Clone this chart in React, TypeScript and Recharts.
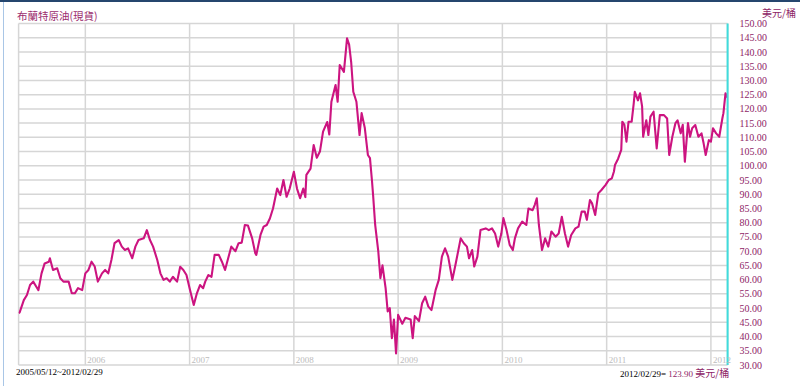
import React from 'react';
import { LineChart, Line, XAxis, YAxis, CartesianGrid } from 'recharts';

// decimal year of each sample
const times = [
    2005.36, 2005.37, 2005.41, 2005.44, 2005.47, 2005.50, 2005.53, 2005.55, 2005.58, 2005.61,
    2005.65, 2005.66, 2005.69, 2005.73, 2005.76, 2005.79, 2005.84, 2005.87, 2005.90, 2005.93,
    2005.97, 2006.00, 2006.03, 2006.06, 2006.09, 2006.12, 2006.16, 2006.19, 2006.22, 2006.25,
    2006.28, 2006.32, 2006.35, 2006.38, 2006.41, 2006.45, 2006.48, 2006.51, 2006.56, 2006.59,
    2006.62, 2006.65, 2006.69, 2006.72, 2006.75, 2006.78, 2006.81, 2006.84, 2006.88, 2006.91,
    2006.94, 2006.97, 2007.00, 2007.04, 2007.07, 2007.10, 2007.13, 2007.15, 2007.18, 2007.21,
    2007.24, 2007.28, 2007.31, 2007.34, 2007.37, 2007.40, 2007.44, 2007.47, 2007.50, 2007.53,
    2007.56, 2007.60, 2007.63, 2007.64, 2007.68, 2007.71, 2007.74, 2007.77, 2007.80, 2007.84,
    2007.87, 2007.90, 2007.93, 2007.96, 2008.00, 2008.03, 2008.06, 2008.09, 2008.11, 2008.12,
    2008.16, 2008.19, 2008.22, 2008.25, 2008.28, 2008.32, 2008.34, 2008.36, 2008.40, 2008.42,
    2008.44, 2008.48, 2008.51, 2008.53, 2008.55, 2008.57, 2008.60, 2008.63, 2008.65, 2008.68,
    2008.71, 2008.73, 2008.75, 2008.76, 2008.78, 2008.81, 2008.83, 2008.85, 2008.88, 2008.90,
    2008.92, 2008.94, 2008.96, 2008.98, 2009.00, 2009.04, 2009.07, 2009.12, 2009.14, 2009.16,
    2009.20, 2009.23, 2009.26, 2009.29, 2009.32, 2009.36, 2009.39, 2009.42, 2009.45, 2009.48,
    2009.52, 2009.55, 2009.60, 2009.63, 2009.66, 2009.68, 2009.71, 2009.73, 2009.76, 2009.79,
    2009.84, 2009.87, 2009.90, 2009.93, 2009.96, 2009.99, 2010.01, 2010.04, 2010.07, 2010.10,
    2010.12, 2010.15, 2010.19, 2010.23, 2010.25, 2010.29, 2010.31, 2010.33, 2010.35, 2010.38,
    2010.41, 2010.44, 2010.47, 2010.51, 2010.54, 2010.57, 2010.60, 2010.63, 2010.66, 2010.70,
    2010.73, 2010.76, 2010.79, 2010.81, 2010.84, 2010.86, 2010.89, 2010.92, 2010.95, 2010.99,
    2011.02, 2011.05, 2011.07, 2011.08, 2011.11, 2011.14, 2011.15, 2011.17, 2011.19, 2011.21,
    2011.24, 2011.26, 2011.27, 2011.30, 2011.32, 2011.34, 2011.35, 2011.38, 2011.40, 2011.42,
    2011.45, 2011.48, 2011.51, 2011.55, 2011.58, 2011.60, 2011.63, 2011.66, 2011.68, 2011.71,
    2011.73, 2011.75, 2011.78, 2011.80, 2011.82, 2011.85, 2011.88, 2011.91, 2011.93, 2011.95,
    2011.98, 2012.00, 2012.02, 2012.05, 2012.08, 2012.11, 2012.12, 2012.14, 2012.16,
];

// Brent spot, USD per barrel
const prices = [
    48.2, 48.5, 52.8, 54.6, 58.1, 59.3, 57.5, 56.3, 62.2, 65.7,
    66.3, 67.5, 63.4, 64.0, 60.5, 59.3, 59.3, 55.2, 55.2, 57.0,
    56.3, 62.2, 63.4, 66.3, 64.6, 59.3, 62.2, 63.4, 62.2, 66.9,
    72.8, 73.9, 71.6, 70.4, 71.0, 67.5, 71.6, 73.9, 74.5, 77.4,
    73.9, 71.6, 66.9, 62.2, 59.9, 60.5, 59.3, 61.0, 59.3, 64.5,
    63.4, 61.6, 57.0, 51.1, 55.2, 58.1, 57.0, 59.3, 61.6, 61.0,
    68.7, 68.7, 66.3, 63.4, 67.5, 71.6, 70.0, 72.8, 73.0, 79.2,
    79.0, 74.5, 69.3, 68.7, 75.7, 78.6, 79.2, 81.5, 85.0, 92.0,
    89.7, 95.0, 89.1, 92.0, 97.9, 92.0, 88.6, 92.0, 89.0, 96.8,
    99.0, 107.3, 102.8, 105.0, 112.0, 115.4, 111.0, 122.5, 128.4, 122.5,
    135.4, 133.0, 144.8, 142.6, 136.3, 126.0, 122.5, 110.8, 118.5, 113.4,
    103.8, 102.7, 94.4, 89.7, 79.2, 69.8, 60.5, 65.0, 57.0, 48.8,
    50.0, 39.4, 46.0, 34.1, 47.6, 44.5, 46.6, 46.0, 39.4, 47.2,
    45.4, 51.7, 54.0, 50.5, 49.3, 56.4, 59.9, 68.1, 71.0, 68.1,
    59.9, 65.2, 74.5, 72.8, 71.6, 67.5, 70.4, 64.6, 68.1, 77.4,
    78.0, 77.4, 78.0, 76.2, 71.6, 76.2, 81.6, 77.4, 72.2, 70.4,
    74.5, 78.0, 80.4, 79.2, 85.0, 84.4, 86.2, 88.6, 79.2, 70.4,
    74.5, 71.6, 76.9, 75.1, 76.2, 82.1, 76.2, 71.6, 75.7, 78.0,
    78.6, 83.9, 83.9, 81.0, 88.0, 86.8, 82.7, 90.3, 91.5, 93.3,
    95.0, 95.6, 98.0, 100.3, 102.5, 105.6, 115.5, 114.4, 108.5, 115.5,
    115.5, 122.0, 126.0, 123.0, 125.5, 120.9, 110.2, 116.0, 110.8, 117.3,
    119.0, 106.1, 117.8, 117.8, 116.6, 103.8, 110.2, 115.0, 116.0, 111.4,
    114.4, 101.4, 115.0, 110.2, 113.2, 114.3, 110.2, 111.4, 107.9, 103.8,
    109.0, 108.5, 113.2, 111.4, 110.2, 116.7, 118.5, 125.5, 123.9,
];

const yearTicks = [2006, 2007, 2008, 2009, 2010, 2011, 2012];
const priceTicks = [
    30, 35, 40, 45, 50, 55, 60, 65, 70, 75, 80, 85, 90, 95, 100,
    105, 110, 115, 120, 125, 130, 135, 140, 145, 150,
];

const title = '布蘭特原油(現貨)';
const unit = '美元/桶';
const rangeText = '2005/05/12~2012/02/29';
const lastDate = '2012/02/29=';
const lastPrice = 123.9;

const LINE = '#cc1480';
const LABEL = '#8e2466';
const SERIF = '"Liberation Serif", "Times New Roman", serif';
const CJK = '"Noto Sans CJK TC", "Noto Sans", sans-serif';

const data = times.map((t, i) => ({ t, price: prices[i] }));

function YearTick(props: any) {
    const { x, payload } = props;
    return (
        <text x={x + 2} y={363} fontSize={9} fill="#bcbcbc" fontFamily={SERIF}>
            {payload.value}
        </text>
    );
}

export default function App() {
    return (
        <div
            style={{
                position: 'absolute',
                left: 0,
                top: 0,
                width: 800,
                height: 386,
                background: '#fff',
                overflow: 'hidden',
            }}
        >
            <div style={{ position: 'absolute', left: 0, top: 0, width: 800, height: 2, background: '#25466e' }} />
            <div style={{ position: 'absolute', left: 3, top: 2, width: 1, height: 384, background: '#a9c6e6' }} />

            <LineChart
                width={800}
                height={386}
                data={data}
                margin={{ top: 23.5, right: 0, bottom: 0, left: 18.6 }}
            >
                <CartesianGrid stroke="#d6d6d6" strokeWidth={1.5} />
                <XAxis
                    dataKey="t"
                    type="number"
                    domain={[2005.36, 2012.16]}
                    ticks={yearTicks}
                    interval={0}
                    height={21}
                    axisLine={false}
                    tickLine={false}
                    tick={<YearTick />}
                    allowDataOverflow
                />
                <YAxis
                    orientation="right"
                    domain={[30, 150]}
                    ticks={priceTicks}
                    interval={0}
                    width={72.4}
                    axisLine={{ stroke: '#3fdcdc', strokeWidth: 2 }}
                    tickLine={false}
                    tickMargin={6}
                    tick={{ fill: LABEL, fontSize: 10, fontFamily: SERIF }}
                    tickFormatter={(v: number) => v.toFixed(2)}
                />
                <Line
                    type="linear"
                    dataKey="price"
                    stroke={LINE}
                    strokeWidth={2.1}
                    strokeLinejoin="round"
                    dot={false}
                    isAnimationActive={false}
                />
            </LineChart>

            <div
                style={{
                    position: 'absolute',
                    left: 17,
                    top: 9,
                    fontSize: 10.5,
                    lineHeight: '13px',
                    color: '#9b2c6e',
                    fontFamily: CJK,
                    whiteSpace: 'nowrap',
                }}
            >
                {title}
            </div>
            <div
                style={{
                    position: 'absolute',
                    left: 762,
                    top: 7,
                    fontSize: 10,
                    lineHeight: '12px',
                    color: LABEL,
                    fontFamily: CJK,
                    whiteSpace: 'nowrap',
                }}
            >
                {unit}
            </div>
            <div
                style={{
                    position: 'absolute',
                    left: 16,
                    top: 367,
                    fontSize: 9,
                    lineHeight: '11px',
                    color: '#000',
                    fontFamily: SERIF,
                    whiteSpace: 'nowrap',
                }}
            >
                {rangeText}
            </div>
            <div
                style={{
                    position: 'absolute',
                    left: 620,
                    top: 367,
                    fontSize: 9,
                    lineHeight: '11px',
                    color: '#000',
                    fontFamily: SERIF,
                    whiteSpace: 'nowrap',
                }}
            >
                {lastDate}{' '}
                <span style={{ color: LABEL }}>
                    {lastPrice.toFixed(2)}{' '}
                    <span style={{ fontFamily: CJK, fontSize: 10 }}>{unit}</span>
                </span>
            </div>
        </div>
    );
}
